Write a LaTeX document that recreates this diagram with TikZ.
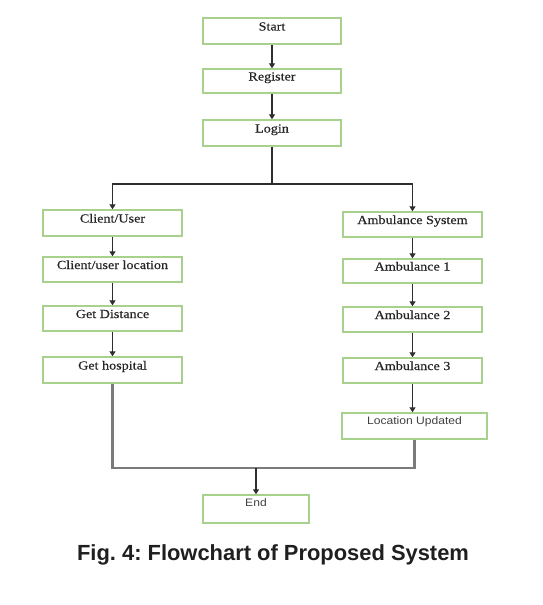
\documentclass[tikz,border=0pt]{standalone}
\usepackage{fontspec}
\setmainfont{Liberation Serif}
\newfontfamily\boxfont[FakeStretch=1.15,FakeBold=0.4]{Liberation Serif}
\newfontfamily\sboxfont[FakeStretch=1.12]{Liberation Sans}
\newfontfamily\capfont{Liberation Sans}
\usetikzlibrary{arrows.meta}
\definecolor{boxgreen}{HTML}{A9D18E}
\definecolor{linedark}{HTML}{2E2E2E}
\definecolor{linegrey}{HTML}{7A7A7A}
\frenchspacing
\begin{document}
\begin{tikzpicture}[x=1pt,y=-1pt,
  fbox/.style={draw=boxgreen, line width=1.4pt, fill=white, minimum width=138pt,
    minimum height=25pt, inner sep=0pt, text height=9pt, text depth=10pt,
    font=\boxfont\fontsize{12.3}{14}\selectfont, text=black!85},
  sbox/.style={fbox, text height=8pt, text depth=11pt, font=\sboxfont\fontsize{10.8}{12}\selectfont, text=black!75},
  conn/.style={draw=linedark, line width=1.8pt},
  conng/.style={draw=linegrey, line width=2.2pt},
  arr/.style={conn, -{Triangle[length=5pt,width=6pt]}}]
\useasboundingbox (0,0) rectangle (543,605);
\fill[white] (0,0) rectangle (543,605);
% top column
\node[fbox, minimum height=26pt] (start) at (272,31) {Start};
\node[fbox, minimum height=24pt] (register) at (272,81) {Register};
\node[fbox, minimum height=26pt] (login) at (272,133) {Login};
% left column
\node[fbox, minimum width=139pt, minimum height=26pt] (client) at (112.5,223) {Client/User};
\node[fbox, minimum width=139pt] (cloc) at (112.5,269.5) {Client/user location};
\node[fbox, minimum width=139pt] (dist) at (112.5,318.5) {Get Distance};
\node[fbox, minimum width=139pt, minimum height=26pt] (hosp) at (112.5,370) {Get hospital};
% right column
\node[fbox, minimum width=139pt] (amb) at (412.5,224.5) {Ambulance System};
\node[fbox, minimum width=139pt, minimum height=24pt] (a1) at (412.5,271) {Ambulance 1};
\node[fbox, minimum width=139pt] (a2) at (412.5,319.5) {Ambulance 2};
\node[fbox, minimum width=139pt] (a3) at (412.5,370.5) {Ambulance 3};
\node[sbox, minimum width=145pt, minimum height=26pt] (locup) at (414.5,426) {Location Updated};
% end
\node[sbox, minimum width=106pt, minimum height=28pt, text depth=13pt] (end) at (256,509) {End};
% connectors
\coordinate (split) at (272,184);
\coordinate (join) at (256,468);
\draw[arr] (start) -- (register);
\draw[arr] (register) -- (login);
\draw[conn] (login.south) -- (split);
\draw[arr] (split) -| (client.north);
\draw[arr] (split) -| (amb.north);
\draw[arr] (client) -- (cloc);
\draw[arr] (cloc) -- (dist);
\draw[arr] (dist) -- (hosp);
\draw[arr] (amb) -- (a1);
\draw[arr] (a1) -- (a2);
\draw[arr] (a2) -- (a3);
\draw[arr] (a3.south) -- (a3.south |- locup.north);
\draw[conng] (hosp.south) |- (join);
\draw[conng] (locup.south) |- (join);
\draw[arr] (join) -- (end.north);
% caption
\node[font=\capfont\bfseries\fontsize{21.9}{24}\selectfont, text=black!88, inner sep=0pt] (cap) at (273,555) {Fig. 4: Flowchart of Proposed System};
\end{tikzpicture}
\end{document}
